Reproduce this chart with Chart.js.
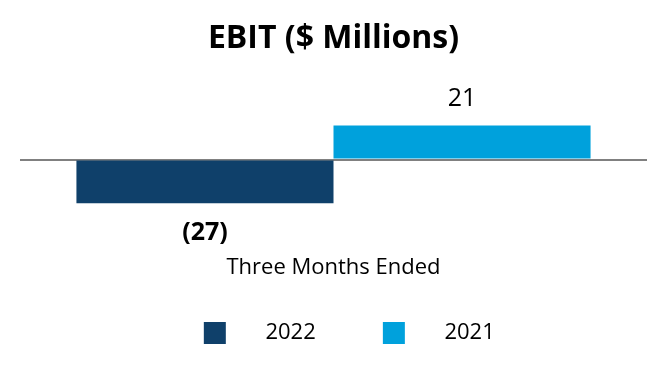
<!DOCTYPE html>
<html><head><meta charset="utf-8">
<script src="https://cdn.jsdelivr.net/npm/chart.js@4"></script>
<style>html,body{margin:0;padding:0;background:#fff}#wrap{width:666px;height:380px}</style>
</head><body><div id="wrap"><canvas id="c" width="666" height="380"></canvas></div>
<script>
const categories = ["Three Months Ended"];
const seriesNames = ["2022", "2021"];
const values2022 = [-27];
const values2021 = [21];
const valueLabels2022 = ["(27)"];
const valueLabels2021 = ["21"];

const labelPlugin = {
  id: 'valLabels',
  afterDatasetsDraw(chart) {
    const ctx = chart.ctx;
    const labelSets = [valueLabels2022, valueLabels2021];
    chart.data.datasets.forEach((ds, di) => {
      const meta = chart.getDatasetMeta(di);
      meta.data.forEach((bar, i) => {
        const v = ds.data[i];
        ctx.save();
        ctx.fillStyle = '#000';
        ctx.textAlign = 'center';
        ctx.textBaseline = 'middle';
        ctx.font = (v < 0 ? 'bold ' : '') + '25px "Open Sans"';
        const y = v < 0 ? bar.y + 29.5 : bar.y - 27;
        ctx.fillText(labelSets[di][i], bar.x, y);
        ctx.restore();
      });
    });
  }
};

const sp = (n) => ' '.repeat(n);

new Chart(document.getElementById('c'), {
  type: 'bar',
  data: {
    labels: categories,
    datasets: [
      { label: seriesNames[0], data: values2022, backgroundColor: '#0f406a', borderWidth: 0, categoryPercentage: 0.82, barPercentage: 1 },
      { label: seriesNames[1], data: values2021, backgroundColor: '#00a1dc', borderWidth: 0, categoryPercentage: 0.82, barPercentage: 1 }
    ]
  },
  options: {
    responsive: false,
    animation: false,
    layout: { padding: { left: 20, right: 19, top: 0, bottom: 26 } },
    plugins: {
      title: { display: true, text: 'EBIT ($ Millions)', color: '#000', font: { family: 'Open Sans', size: 32, weight: 'bold' }, padding: { top: 20, bottom: 8 } },
      legend: {
        position: 'bottom',
        labels: {
          color: '#000', font: { family: 'Open Sans', size: 22 }, boxWidth: 22, boxHeight: 22, padding: 10,
          generateLabels(chart) {
            const items = Chart.defaults.plugins.legend.labels.generateLabels(chart);
            items.forEach((it, i) => {
              it.lineWidth = 0;
              it.text = sp(5) + it.text + (i === 0 ? sp(10) : sp(2));
            });
            items.unshift({ text: '', fillStyle: 'rgba(0,0,0,0)', strokeStyle: 'rgba(0,0,0,0)', lineWidth: 0, hidden: false });
            return items;
          }
        }
      },
      tooltip: { enabled: false }
    },
    scales: {
      x: {
        grid: { display: false }, border: { display: false },
        ticks: { color: '#000', font: { family: 'Open Sans', size: 22 }, padding: 0 },
        afterFit(axis) { axis.height += 31; }
      },
      y: {
        min: -53.7, max: 57.5,
        ticks: { display: false },
        border: { display: false },
        grid: { drawTicks: false, lineWidth: 2, color: (c) => c.tick && c.tick.value === 0 ? '#808080' : 'rgba(0,0,0,0)' }
      }
    }
  },
  plugins: [labelPlugin]
});
</script>
</body></html>
